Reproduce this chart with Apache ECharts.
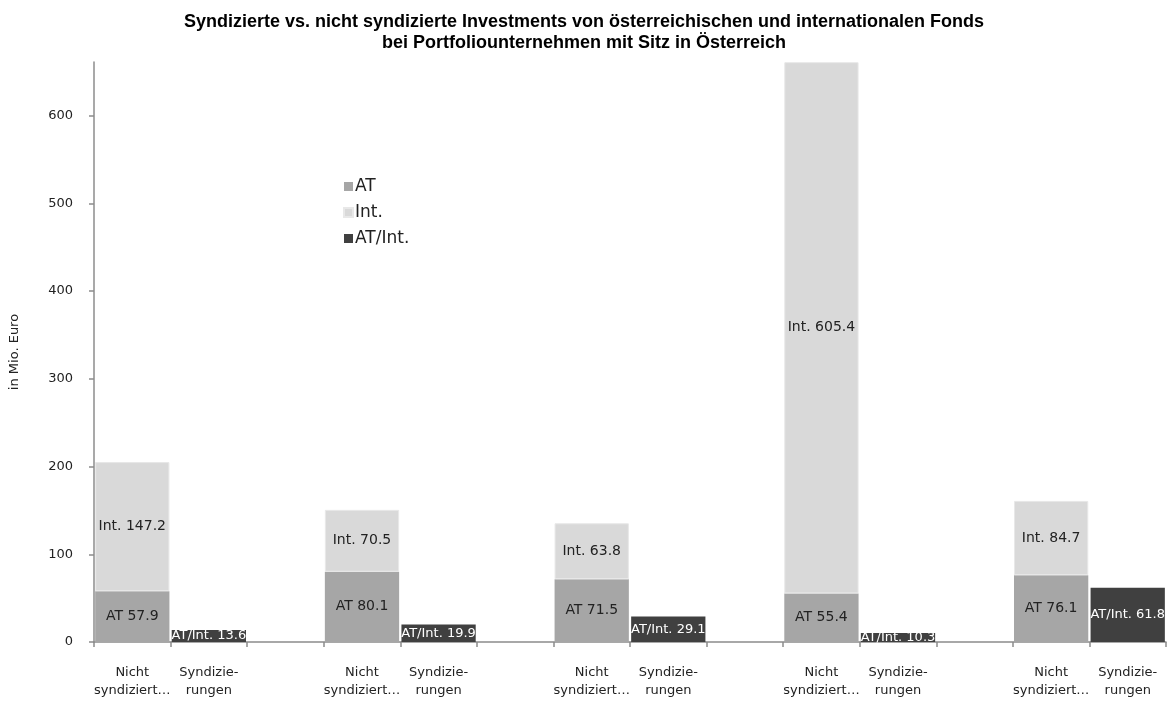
<!DOCTYPE html>
<html>
<head>
<meta charset="utf-8">
<script src="https://cdn.jsdelivr.net/npm/echarts@6/dist/echarts.min.js"></script>
<style>html,body{margin:0;padding:0;background:#fff}#c{width:1168px;height:702px}</style>
</head>
<body>
<div id="c"></div>
<script>
var nichtLabel = 'Nicht\nsyndiziert…';
var syndLabel = 'Syndizie-\nrungen';
var atValues = [57.9, 80.1, 71.5, 55.4, 76.1];
var intValues = [147.2, 70.5, 63.8, 605.4, 84.7];
var syndValues = [13.6, 19.9, 29.1, 10.3, 61.8];
var yTicks = [0, 100, 200, 300, 400, 500, 600];

var categories = [], atData = [], intData = [], syndData = [];
for (var i = 0; i < atValues.length; i++) {
  categories.push(nichtLabel); atData.push(atValues[i]); intData.push(intValues[i]); syndData.push('-');
  categories.push(syndLabel); atData.push('-'); intData.push('-'); syndData.push(syndValues[i]);
  if (i < atValues.length - 1) { categories.push(''); atData.push('-'); intData.push('-'); syndData.push('-'); }
}
var FONT = 'DejaVu Sans';
var chart = echarts.init(document.getElementById('c'));
chart.setOption({
  animation: false,
  title: {
    text: 'Syndizierte vs. nicht syndizierte Investments von österreichischen und internationalen Fonds\nbei Portfoliounternehmen mit Sitz in Österreich',
    left: 'center', top: 7,
    textStyle: { fontFamily: 'Liberation Sans', fontWeight: 'bold', fontSize: 18, lineHeight: 21, color: '#000' }
  },
  legend: {
    orient: 'vertical', left: 338, top: 173, itemWidth: 9, itemHeight: 9, itemGap: 9, icon: 'rect',
    textStyle: { fontFamily: FONT, fontSize: 17, color: '#222', padding: [0,0,0,-3] },
    data: ['AT', 'Int.', 'AT/Int.']
  },
  grid: { left: 94, right: 2, top: 62, bottom: 60, outerBoundsMode: 'none' },
  xAxis: {
    type: 'category', data: categories,
    axisLine: { lineStyle: { color: '#8c8c8c', width: 1.5 } },
    axisTick: { show: true, interval: 0, length: 5, lineStyle: { color: '#8c8c8c', width: 1.5 } },
    axisLabel: { interval: 0, margin: 22, fontFamily: FONT, fontSize: 13, lineHeight: 18, color: '#222' }
  },
  yAxis: {
    type: 'value', min: 0, max: 661,
    name: 'in Mio. Euro', nameLocation: 'middle', nameGap: 73, nameRotate: 90,
    nameTextStyle: { fontFamily: FONT, fontSize: 13, color: '#222' },
    axisLine: { show: true, lineStyle: { color: '#8c8c8c', width: 1.5 } },
    axisTick: { show: true, length: 5, customValues: yTicks, lineStyle: { color: '#8c8c8c', width: 1.5 } },
    axisLabel: { customValues: yTicks, margin: 21, fontFamily: FONT, fontSize: 13, color: '#222' },
    splitLine: { show: false }
  },
  series: [
    { name: 'AT', type: 'bar', stack: 'total', data: atData, barCategoryGap: '3%',
      itemStyle: { color: '#a6a6a6' },
      label: { show: true, position: 'inside', fontFamily: FONT, fontSize: 14, color: '#222',
        formatter: function (p) { return 'AT ' + p.value; } } },
    { name: 'Int.', type: 'bar', stack: 'total', data: intData,
      itemStyle: { color: '#d9d9d9', borderColor: '#e8e8e8', borderWidth: 1 },
      label: { show: true, position: 'inside', fontFamily: FONT, fontSize: 14, color: '#222',
        formatter: function (p) { return 'Int. ' + p.value; } } },
    { name: 'AT/Int.', type: 'bar', stack: 'total', data: syndData,
      itemStyle: { color: '#404040' },
      label: { show: true, position: 'inside', fontFamily: FONT, fontSize: 13, color: '#fff',
        formatter: function (p) { return 'AT/Int. ' + p.value; } } }
  ]
});
</script>
</body>
</html>
